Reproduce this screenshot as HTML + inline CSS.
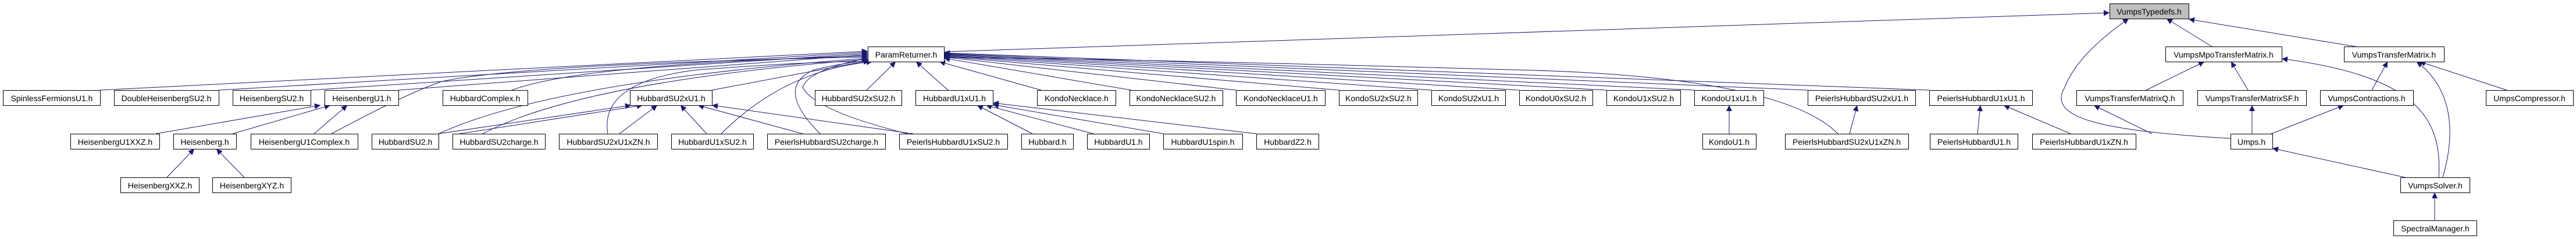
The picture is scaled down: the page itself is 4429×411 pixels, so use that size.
<!DOCTYPE html>
<html><head><meta charset="utf-8"><style>
html,body{margin:0;padding:0;background:#fff;width:4429px;height:411px;overflow:hidden}
svg text{font-family:"Liberation Sans",sans-serif;font-size:14px;fill:#000}
</style></head><body>
<svg width="4429" height="411" xmlns="http://www.w3.org/2000/svg">
<defs><marker id="a" viewBox="0 0 10 10" refX="10" refY="5" markerWidth="11" markerHeight="10" orient="auto" markerUnits="userSpaceOnUse"><path d="M0,0L10,5L0,10z" fill="#191970"/></marker></defs>
<g fill="none" stroke="#191970" stroke-width="1" marker-end="url(#a)">
<path d="M172,155 L1492,88"/>
<path d="M376,155 L1492,90"/>
<path d="M534,155 L1492,92"/>
<path d="M685,155 L1492,94"/>
<path d="M880,155 Q1000,110 1492,96"/>
<path d="M1224,155 L1495,104"/>
<path d="M1490,155 L1540,106"/>
<path d="M1630,155 L1575,106"/>
<path d="M1790,155 L1615,106"/>
<path d="M1945,155 L1623,100"/>
<path d="M2125,155 L1623,98"/>
<path d="M2302,155 L1623,97"/>
<path d="M2461,155 L1623,96"/>
<path d="M2612,155 L1623,95"/>
<path d="M2762,155 L1623,94"/>
<path d="M2913,155 L1623,93"/>
<path d="M3108,155 L1623,92"/>
<path d="M3317,155 L1623,91"/>
<path d="M3160,230 Q3060,130 2600,120 Q1900,100 1623,99"/>
<path d="M1623,89 L3627,22"/>
<path d="M570,230 Q700,160 760,140 Q900,110 1492,98"/>
<path d="M754,230 Q950,140 1492,100"/>
<path d="M830,230 Q1000,140 1492,102"/>
<path d="M1045,230 Q1030,140 1200,120 Q1400,105 1495,106"/>
<path d="M1240,230 Q1350,120 1500,106"/>
<path d="M1410,230 Q1330,150 1400,120 Q1450,108 1495,104"/>
<path d="M1560,230 Q1400,190 1380,150 Q1390,120 1492,100"/>
<path d="M754,230 L1085,181"/>
<path d="M790,230 L1105,181"/>
<path d="M1065,230 L1130,181"/>
<path d="M1215,230 L1170,181"/>
<path d="M1380,230 L1200,181"/>
<path d="M1570,230 L1224,181"/>
<path d="M1775,230 L1680,181"/>
<path d="M1880,230 L1695,181"/>
<path d="M2000,230 L1707,180"/>
<path d="M2160,230 L1707,177"/>
<path d="M268,230 L551,181"/>
<path d="M400,230 L568,181"/>
<path d="M540,230 L597,181"/>
<path d="M287,305 L334,256"/>
<path d="M420,305 L372,256"/>
<path d="M2973,230 L2973,181"/>
<path d="M3180,230 L3193,181"/>
<path d="M3400,230 L3405,181"/>
<path d="M3560,230 L3445,181"/>
<path d="M3803,80 L3725,32"/>
<path d="M4050,80 L3763,33"/>
<path d="M3835,238 C3600,225 3520,200 3550,150 C3570,100 3620,60 3660,32"/>
<path d="M3690,155 L3790,106"/>
<path d="M3865,155 L3836,106"/>
<path d="M4078,155 L4105,106"/>
<path d="M4310,155 L4160,106"/>
<path d="M4193,305 C4200,200 4150,130 3923,101"/>
<path d="M4200,305 C4230,200 4200,140 4155,106"/>
<path d="M3700,230 L3600,181"/>
<path d="M3872,230 L3872,181"/>
<path d="M3905,230 L4030,181"/>
<path d="M4135,305 L3907,255"/>
<path d="M4186,379 L4186,331"/>
</g>
<g stroke="#000" stroke-width="1">
<rect x="3627.5" y="6.5" width="136" height="26" fill="#bfbfbf"/>
<rect x="1492.5" y="80.5" width="131" height="26" fill="#fff"/>
<rect x="3723.5" y="80.5" width="200" height="26" fill="#fff"/>
<rect x="4030.5" y="80.5" width="172" height="26" fill="#fff"/>
<g fill="#fff">
<rect x="5.5" y="155.5" width="167" height="26"/>
<rect x="196.5" y="155.5" width="180" height="26"/>
<rect x="400.5" y="155.5" width="134" height="26"/>
<rect x="558.5" y="155.5" width="127" height="26"/>
<rect x="761.5" y="155.5" width="146" height="26"/>
<rect x="1083.5" y="155.5" width="141" height="26"/>
<rect x="1401.5" y="155.5" width="149" height="26"/>
<rect x="1574.5" y="155.5" width="133" height="26"/>
<rect x="1783.5" y="155.5" width="135" height="26"/>
<rect x="1942.5" y="155.5" width="160" height="26"/>
<rect x="2125.5" y="155.5" width="153" height="26"/>
<rect x="2302.5" y="155.5" width="135" height="26"/>
<rect x="2461.5" y="155.5" width="127" height="26"/>
<rect x="2612.5" y="155.5" width="126" height="26"/>
<rect x="2762.5" y="155.5" width="127" height="26"/>
<rect x="2913.5" y="155.5" width="119" height="26"/>
<rect x="3108.5" y="155.5" width="185" height="26"/>
<rect x="3317.5" y="155.5" width="177" height="26"/>
<rect x="3570.5" y="155.5" width="183" height="26"/>
<rect x="3778.5" y="155.5" width="187" height="26"/>
<rect x="3989.5" y="155.5" width="160" height="26"/>
<rect x="4274.5" y="155.5" width="150" height="26"/>
<rect x="121.5" y="230.5" width="153" height="26"/>
<rect x="298.5" y="230.5" width="108" height="26"/>
<rect x="431.5" y="230.5" width="184" height="26"/>
<rect x="639.5" y="230.5" width="115" height="26"/>
<rect x="778.5" y="230.5" width="159" height="26"/>
<rect x="961.5" y="230.5" width="169" height="26"/>
<rect x="1154.5" y="230.5" width="141" height="26"/>
<rect x="1319.5" y="230.5" width="203" height="26"/>
<rect x="1546.5" y="230.5" width="186" height="26"/>
<rect x="1756.5" y="230.5" width="89" height="26"/>
<rect x="1869.5" y="230.5" width="107" height="26"/>
<rect x="2000.5" y="230.5" width="136" height="26"/>
<rect x="2160.5" y="230.5" width="107" height="26"/>
<rect x="2927.5" y="230.5" width="92" height="26"/>
<rect x="3069.5" y="230.5" width="212" height="26"/>
<rect x="3318.5" y="230.5" width="151" height="26"/>
<rect x="3494.5" y="230.5" width="178" height="26"/>
<rect x="3835.5" y="230.5" width="72" height="26"/>
<rect x="207.5" y="305.5" width="135" height="26"/>
<rect x="365.5" y="305.5" width="135" height="26"/>
<rect x="4127.5" y="305.5" width="119" height="26"/>
<rect x="4115.5" y="379.5" width="143" height="26"/>
</g></g>
<g text-anchor="middle">
<text x="3695" y="25">VumpsTypedefs.h</text>
<text x="1558" y="99">ParamReturner.h</text>
<text x="3823" y="99">VumpsMpoTransferMatrix.h</text>
<text x="4116" y="99">VumpsTransferMatrix.h</text>
<text x="89" y="174">SpinlessFermionsU1.h</text>
<text x="286" y="174">DoubleHeisenbergSU2.h</text>
<text x="467" y="174">HeisenbergSU2.h</text>
<text x="622" y="174">HeisenbergU1.h</text>
<text x="834" y="174">HubbardComplex.h</text>
<text x="1154" y="174">HubbardSU2xU1.h</text>
<text x="1476" y="174">HubbardSU2xSU2.h</text>
<text x="1641" y="174">HubbardU1xU1.h</text>
<text x="1851" y="174">KondoNecklace.h</text>
<text x="2022" y="174">KondoNecklaceSU2.h</text>
<text x="2202" y="174">KondoNecklaceU1.h</text>
<text x="2370" y="174">KondoSU2xSU2.h</text>
<text x="2525" y="174">KondoSU2xU1.h</text>
<text x="2675" y="174">KondoU0xSU2.h</text>
<text x="2826" y="174">KondoU1xSU2.h</text>
<text x="2973" y="174">KondoU1xU1.h</text>
<text x="3201" y="174">PeierlsHubbardSU2xU1.h</text>
<text x="3406" y="174">PeierlsHubbardU1xU1.h</text>
<text x="3662" y="174">VumpsTransferMatrixQ.h</text>
<text x="3872" y="174">VumpsTransferMatrixSF.h</text>
<text x="4069" y="174">VumpsContractions.h</text>
<text x="4349" y="174">UmpsCompressor.h</text>
<text x="198" y="249">HeisenbergU1XXZ.h</text>
<text x="352" y="249">Heisenberg.h</text>
<text x="523" y="249">HeisenbergU1Complex.h</text>
<text x="697" y="249">HubbardSU2.h</text>
<text x="858" y="249">HubbardSU2charge.h</text>
<text x="1046" y="249">HubbardSU2xU1xZN.h</text>
<text x="1225" y="249">HubbardU1xSU2.h</text>
<text x="1421" y="249">PeierlsHubbardSU2charge.h</text>
<text x="1639" y="249">PeierlsHubbardU1xSU2.h</text>
<text x="1801" y="249">Hubbard.h</text>
<text x="1923" y="249">HubbardU1.h</text>
<text x="2068" y="249">HubbardU1spin.h</text>
<text x="2214" y="249">HubbardZ2.h</text>
<text x="2973" y="249">KondoU1.h</text>
<text x="3175" y="249">PeierlsHubbardSU2xU1xZN.h</text>
<text x="3394" y="249">PeierlsHubbardU1.h</text>
<text x="3583" y="249">PeierlsHubbardU1xZN.h</text>
<text x="3871" y="249">Umps.h</text>
<text x="275" y="324">HeisenbergXXZ.h</text>
<text x="433" y="324">HeisenbergXYZ.h</text>
<text x="4187" y="324">VumpsSolver.h</text>
<text x="4187" y="398">SpectralManager.h</text>
</g>
</svg>
</body></html>
